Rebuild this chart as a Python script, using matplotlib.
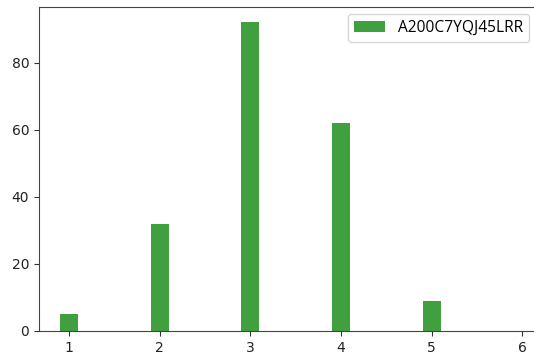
import matplotlib
matplotlib.use("Agg")
import matplotlib.pyplot as plt

# Counts per rating value
ratings = [1, 2, 3, 4, 5]
counts = [5, 32, 92, 62, 9]
series_label = "A200C7YQJ45LRR"
xticks = [1, 2, 3, 4, 5, 6]

fig = plt.figure(figsize=(5.34, 3.56), dpi=100)
ax = fig.add_axes([39 / 534, 25 / 356, 503 / 534, 324 / 356])

ax.bar(ratings, counts, width=0.2, color="green", alpha=0.75, label=series_label)

ax.set_xticks(xticks)
ax.set_yticks([0, 20, 40, 60, 80])
ax.set_xlim(0.666, 6.219)
ax.set_ylim(0, 96.6)
ax.tick_params(labelsize=10, colors="#333333", labelcolor="#222222")
for sp in ax.spines.values():
    sp.set_color("#444444")
ax.spines["right"].set_visible(False)

ax.legend(loc="upper right", bbox_to_anchor=(529 / 534, 1 - 14 / 356),
          bbox_transform=fig.transFigure, borderaxespad=0,
          prop={"family": "Open Sans", "size": 11.2}, borderpad=0.4,
          handlelength=2.0, handletextpad=0.8)

fig.savefig("out.png", dpi=100)
